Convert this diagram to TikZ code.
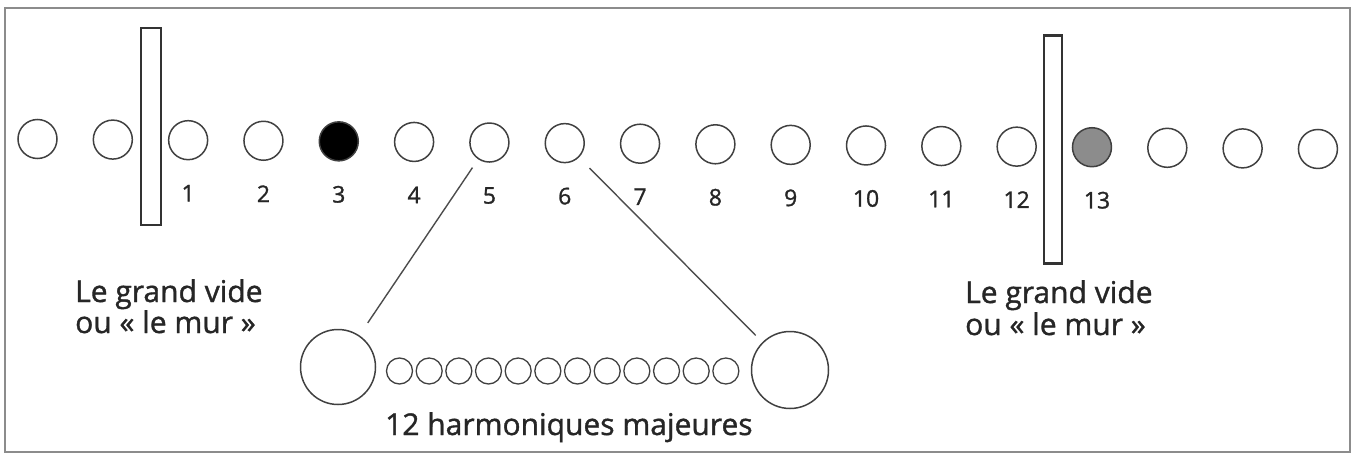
\documentclass[tikz,border=0pt]{standalone}
\usepackage{fontspec}
\setmainfont{Open Sans}
\newfontfamily\heavysans[FakeBold=1.2]{Open Sans}
\begin{document}
\begin{tikzpicture}[x=1pt,y=-1pt,
  ball/.style={circle,draw=black!75,line width=1.5pt,minimum size=39pt,inner sep=0pt},
  smallball/.style={ball,line width=1.3pt,minimum size=26pt},
  bigball/.style={ball,line width=1.5pt},
  wall/.style={rectangle,draw=black!80,line width=2.8pt,fill=white,inner sep=0pt},
  num/.style={font=\heavysans\fontsize{23}{23}\selectfont,text=black!85,inner sep=0pt},
  lbl/.style={font=\heavysans\fontsize{30}{30}\selectfont,text=black!85,inner sep=0pt,anchor=base west},
  link/.style={draw=black!70,line width=1.4pt},
  frame/.style={draw=black!45,line width=1.6pt}]
\useasboundingbox (0,0) rectangle (1358,455);
\draw[frame] (5,8) rectangle (1350,452);
% top row of circles
\foreach \i/\f in {0/white,1/white,2/white,3/white,4/black,5/white,6/white,7/white,8/white,9/white,10/white,11/white,12/white,13/white,14/black!45,15/white,16/white,17/white}{
  \pgfmathsetmacro\xx{37.5+75.32*\i}
  \pgfmathsetmacro\yy{139+0.0078*(\xx-37.5)}
  \node[ball,fill=\f] (c\i) at (\xx,\yy) {};
}
% numbers
\foreach \n in {1,...,12}{
  \pgfmathtruncatemacro\k{\n+1}
  \path (c\k) ++(0,53) node[num] (n\n) {\n};
}
\path (c14) ++(5,53) node[num] (n13) {13};
% walls
\node[wall,minimum width=20pt,minimum height=197pt] (wL) at (151,126.5) {};
\node[wall,minimum width=18pt,minimum height=228pt] (wR) at (1053,149.5) {};
% labels
\node[lbl] (gvL1) at (75,302) {Le grand vide};
\node[lbl] (gvL2) at (75,333) {ou « le mur »};
\node[lbl] (gvR1) at (965,303) {Le grand vide};
\node[lbl] (gvR2) at (965,335) {ou « le mur »};
% bottom group
\node[bigball,minimum size=75pt] (bL) at (338,367) {};
\node[bigball,minimum size=77pt] (bR) at (790,370) {};
\foreach \j in {0,...,11}{
  \pgfmathsetmacro\xx{399.5+29.67*\j}
  \node[smallball] (s\j) at (\xx,371) {};
}
\node[lbl] (harm) at (385,435) {12 harmoniques majeures};
% links
\draw[link,shorten <=10pt,shorten >=15pt] (c6) -- (bL);
\draw[link,shorten <=15pt,shorten >=9.5pt] (c7) -- (bR);
\end{tikzpicture}
\end{document}
